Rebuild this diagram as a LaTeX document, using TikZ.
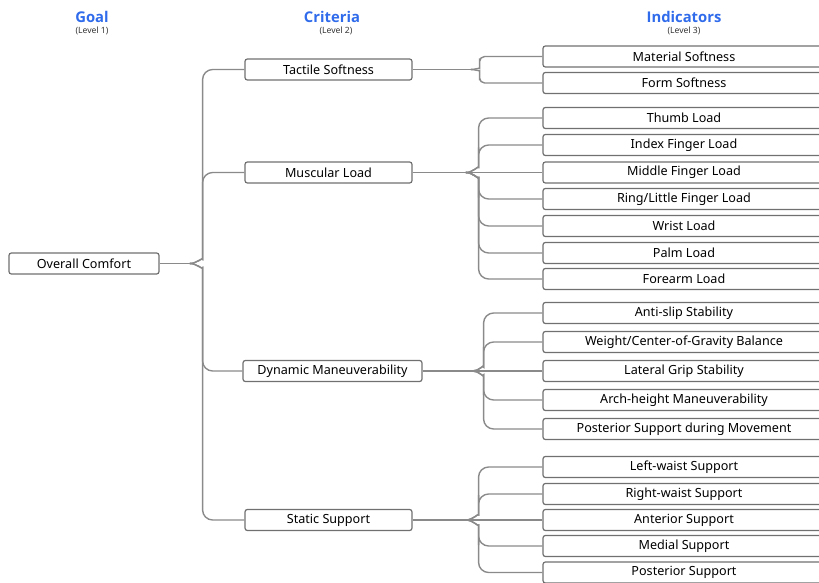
\documentclass[tikz,border=0pt]{standalone}
\usepackage{fontspec}
\setmainfont{Noto Sans}
\newfontfamily\headfont{Open Sans}
\usepackage{xcolor}
\usepackage{tikz}
\usetikzlibrary{calc, positioning}

\definecolor{headblue}{HTML}{2F6BEB}
\definecolor{boxgray}{HTML}{707070}
\definecolor{linkgray}{HTML}{8A8A8A}

\tikzset{
  box/.style={draw=boxgray, line width=0.6pt, rounded corners=1.2pt, minimum height=10.5pt, inner sep=0pt, font=\fontsize{6.3}{7}\selectfont},
  crit/.style={box, minimum width=83.5pt},
  ind/.style={box, minimum width=141pt},
  link/.style={draw=linkgray, line width=0.7pt, rounded corners=5pt},
  head/.style={text=headblue, font=\headfont\bfseries\fontsize{7.4}{9}\selectfont},
  level/.style={text=black!80, font=\fontsize{4.3}{5}\selectfont},
}

\begin{document}
\begin{tikzpicture}[x=0.5pt, y=-0.5pt]
    \useasboundingbox (0,0) rectangle (819,583);
    \clip (0,0) rectangle (819,583);

    % 1. Tiêu đề các cấp
    \node[head] (goalhead) at (92,17) {Goal};
    \node[level] (goallevel) at (92,31) {(Level 1)};
    \node[head] (crithead) at (332,17) {Criteria};
    \node[level] (critlevel) at (336,31) {(Level 2)};
    \node[head] (indhead) at (684,17) {Indicators};
    \node[level] (indlevel) at (684,31) {(Level 3)};

    % 2. Mục tiêu và tiêu chí
    \node[box, minimum width=75pt] (goal) at (84,263.5) {Overall Comfort};
    \node[crit] (tactile) at (328.5,69.5) {Tactile Softness};
    \node[crit] (muscular) at (328.5,172.5) {Muscular Load};
    \node[crit, minimum width=89.5pt] (dynamic) at (332.5,371) {Dynamic Maneuverability};
    \node[crit] (static) at (328.5,520) {Static Support};

    % 3. Chỉ số
    \node[ind] (matsoft) at (684,56.5) {Material Softness};
    \node[ind] (formsoft) at (684,83) {Form Softness};

    \node[ind] (thumb) at (684,118) {Thumb Load};
    \node[ind] (index) at (684,145) {Index Finger Load};
    \node[ind] (middle) at (684,172.5) {Middle Finger Load};
    \node[ind] (ring) at (684,199) {Ring/Little Finger Load};
    \node[ind] (wrist) at (684,226) {Wrist Load};
    \node[ind] (palm) at (684,253) {Palm Load};
    \node[ind] (forearm) at (684,279) {Forearm Load};

    \node[ind] (antislip) at (684,313) {Anti-slip Stability};
    \node[ind] (weight) at (684,342) {Weight/Center-of-Gravity Balance};
    \node[ind] (lateral) at (684,371) {Lateral Grip Stability};
    \node[ind] (arch) at (684,400) {Arch-height Maneuverability};
    \node[ind] (postmove) at (684,429) {Posterior Support during Movement};

    \node[ind] (leftwaist) at (684,467) {Left-waist Support};
    \node[ind] (rightwaist) at (684,494) {Right-waist Support};
    \node[ind] (anterior) at (684,520) {Anterior Support};
    \node[ind] (medial) at (684,546) {Medial Support};
    \node[ind] (posterior) at (684,572.5) {Posterior Support};

    % 4. Đường nối: mục tiêu -> tiêu chí
    \coordinate (gJ) at ($(goal.east)+(30,0)$);
    \draw[link] (goal.east) -- (gJ);
    \draw[link] (gJ) to[out=0,in=-90] ($(gJ)+(13,-14)$) |- (tactile.west);
    \draw[link] (gJ) to[out=0,in=-90] ($(gJ)+(13,-14)$) |- (muscular.west);
    \draw[link] (gJ) to[out=0,in=90] ($(gJ)+(13,14)$) |- (dynamic.west);
    \draw[link] (gJ) to[out=0,in=90] ($(gJ)+(13,14)$) |- (static.west);

    % 5. Tactile Softness
    \coordinate (tJ) at ($(tactile.east)+(58,0)$);
    \draw[link] (tactile.east) -- (tJ);
    \draw[link, rounded corners=2.5pt] (tJ) to[out=0,in=-90] ($(tJ)+(9,-6)$) |- (matsoft.west);
    \draw[link, rounded corners=2.5pt] (tJ) to[out=0,in=90] ($(tJ)+(9,6)$) |- (formsoft.west);

    % 6. Muscular Load
    \coordinate (mJ) at ($(muscular.east)+(53,0)$);
    \draw[link] (muscular.east) -- (mJ);
    \draw[link] (mJ) to[out=0,in=-90] ($(mJ)+(13,-15)$) |- (thumb.west);
    \draw[link] (mJ) to[out=0,in=-90] ($(mJ)+(13,-15)$) |- (index.west);
    \draw[link] (mJ) -- (middle.west);
    \draw[link] (mJ) to[out=0,in=90] ($(mJ)+(13,15)$) |- (ring.west);
    \draw[link] (mJ) to[out=0,in=90] ($(mJ)+(13,15)$) |- (wrist.west);
    \draw[link] (mJ) to[out=0,in=90] ($(mJ)+(13,15)$) |- (palm.west);
    \draw[link] (mJ) to[out=0,in=90] ($(mJ)+(13,15)$) |- (forearm.west);

    % 7. Dynamic Maneuverability
    \coordinate (dJ) at ($(dynamic.east)+(50,0)$);
    \draw[link] (dynamic.east) -- (dJ);
    \draw[link] (dJ) to[out=0,in=-90] ($(dJ)+(11,-14)$) |- (antislip.west);
    \draw[link] (dJ) to[out=0,in=-90] ($(dJ)+(11,-14)$) |- (weight.west);
    \draw[link] (dJ) -- (lateral.west);
    \draw[link] (dJ) to[out=0,in=90] ($(dJ)+(11,14)$) |- (arch.west);
    \draw[link] (dJ) to[out=0,in=90] ($(dJ)+(11,14)$) |- (postmove.west);

    % 8. Static Support
    \coordinate (sJ) at ($(static.east)+(53,0)$);
    \draw[link] (static.east) -- (sJ);
    \draw[link] (sJ) to[out=0,in=-90] ($(sJ)+(13,-15)$) |- (leftwaist.west);
    \draw[link] (sJ) to[out=0,in=-90] ($(sJ)+(13,-15)$) |- (rightwaist.west);
    \draw[link] (sJ) -- (anterior.west);
    \draw[link] (sJ) to[out=0,in=90] ($(sJ)+(13,15)$) |- (medial.west);
    \draw[link] (sJ) to[out=0,in=90] ($(sJ)+(13,15)$) |- (posterior.west);

\end{tikzpicture}
\end{document}
